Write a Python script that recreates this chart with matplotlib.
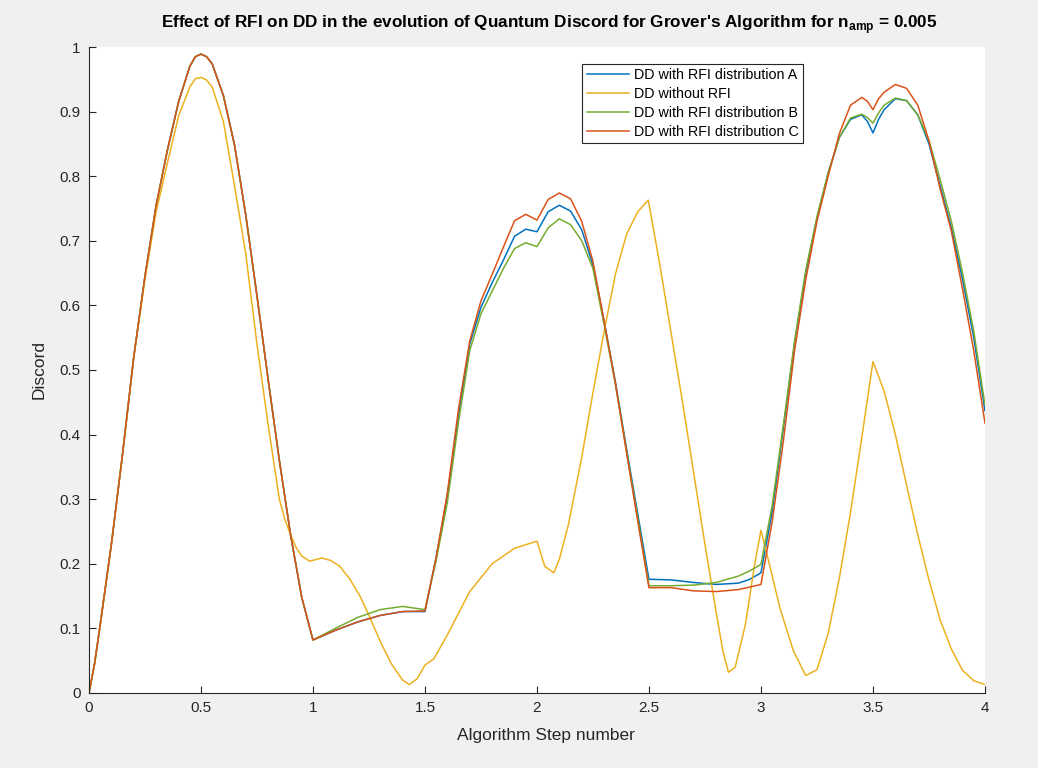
import numpy as np
import matplotlib.pyplot as plt
from matplotlib.ticker import FuncFormatter

plt.rcParams['font.family'] = ['Liberation Sans', 'DejaVu Sans']
plt.rcParams['mathtext.fontset'] = 'custom'
plt.rcParams['mathtext.rm'] = 'Liberation Sans'
plt.rcParams['mathtext.bf'] = 'Liberation Sans:bold'

# Malla comun para las curvas con RFI
pasos = [0, 0.025, 0.05, 0.1, 0.15, 0.2, 0.25, 0.3, 0.35, 0.4, 0.45, 0.475, 0.5,
         0.525, 0.55, 0.6, 0.65, 0.7, 0.75, 0.8, 0.85, 0.9, 0.95, 1.0,
         1.1, 1.2, 1.3, 1.4, 1.5, 1.55, 1.6, 1.65, 1.7, 1.75, 1.8, 1.85, 1.9, 1.95, 2.0,
         2.05, 2.1, 2.15, 2.2, 2.25, 2.3, 2.35, 2.4, 2.45, 2.5,
         2.6, 2.7, 2.8, 2.9, 2.95, 3.0,
         3.05, 3.1, 3.15, 3.2, 3.25, 3.3, 3.35, 3.4, 3.45, 3.475, 3.5,
         3.525, 3.55, 3.6, 3.65, 3.7, 3.75, 3.8, 3.85, 3.9, 3.95, 4.0]

primer_pico = [0, 0.045, 0.105, 0.23, 0.37, 0.52, 0.645, 0.755, 0.84, 0.915, 0.97, 0.985, 0.989,
               0.985, 0.974, 0.925, 0.848, 0.74, 0.615, 0.485, 0.36, 0.245, 0.148, 0.082]

dd_A = primer_pico + [
    0.097, 0.11, 0.12, 0.126, 0.126, 0.21, 0.305, 0.43, 0.54, 0.597, 0.635, 0.67, 0.707, 0.718, 0.714,
    0.745, 0.755, 0.746, 0.717, 0.662, 0.575, 0.482, 0.378, 0.277, 0.176,
    0.175, 0.171, 0.168, 0.17, 0.176, 0.186,
    0.28, 0.41, 0.54, 0.65, 0.735, 0.805, 0.86, 0.888, 0.895, 0.885, 0.867,
    0.888, 0.903, 0.92, 0.917, 0.895, 0.85, 0.785, 0.72, 0.64, 0.55, 0.437]

dd_B = primer_pico + [
    0.1, 0.117, 0.129, 0.134, 0.129, 0.205, 0.295, 0.42, 0.53, 0.587, 0.622, 0.657, 0.688, 0.697, 0.691,
    0.72, 0.734, 0.725, 0.7, 0.657, 0.57, 0.478, 0.374, 0.27, 0.166,
    0.166, 0.167, 0.171, 0.181, 0.189, 0.199,
    0.29, 0.415, 0.545, 0.655, 0.737, 0.805, 0.86, 0.89, 0.896, 0.891, 0.882,
    0.898, 0.91, 0.921, 0.917, 0.895, 0.855, 0.795, 0.73, 0.65, 0.56, 0.446]

dd_C = primer_pico + [
    0.097, 0.11, 0.12, 0.126, 0.127, 0.21, 0.31, 0.44, 0.545, 0.607, 0.648, 0.69, 0.731, 0.741, 0.732,
    0.764, 0.774, 0.765, 0.73, 0.668, 0.575, 0.48, 0.372, 0.266, 0.163,
    0.163, 0.158, 0.157, 0.16, 0.164, 0.168,
    0.265, 0.39, 0.53, 0.64, 0.73, 0.8, 0.866, 0.91, 0.922, 0.916, 0.903,
    0.92, 0.93, 0.942, 0.936, 0.91, 0.855, 0.78, 0.715, 0.625, 0.53, 0.418]

# Sin RFI
pasos_sin = [0, 0.025, 0.05, 0.1, 0.15, 0.2, 0.25, 0.3, 0.35, 0.4, 0.45, 0.475, 0.5,
             0.525, 0.55, 0.6, 0.65, 0.7, 0.75, 0.8, 0.85, 0.875, 0.9, 0.925, 0.95, 0.985,
             1.04, 1.08, 1.12, 1.165, 1.21, 1.25, 1.3, 1.35, 1.4, 1.43, 1.465, 1.5,
             1.54, 1.6, 1.7, 1.8, 1.9, 2.0,
             2.035, 2.075, 2.1, 2.14, 2.2, 2.25, 2.3, 2.35, 2.4, 2.45, 2.497,
             2.55, 2.6, 2.65, 2.7, 2.75, 2.8, 2.83, 2.855, 2.885, 2.93, 2.97, 3.0,
             3.04, 3.085, 3.145, 3.2, 3.25, 3.3, 3.35, 3.4, 3.45, 3.5,
             3.55, 3.6, 3.65, 3.7, 3.75, 3.8, 3.85, 3.9, 3.95, 4.0]
dd_sin = [0, 0.045, 0.105, 0.23, 0.37, 0.52, 0.64, 0.745, 0.82, 0.893, 0.938, 0.951, 0.953,
          0.949, 0.938, 0.885, 0.785, 0.68, 0.54, 0.415, 0.30, 0.268, 0.245, 0.225, 0.212, 0.204,
          0.209, 0.205, 0.196, 0.176, 0.15, 0.12, 0.08, 0.045, 0.02, 0.013, 0.022, 0.043,
          0.053, 0.09, 0.157, 0.2, 0.224, 0.235,
          0.196, 0.186, 0.207, 0.26, 0.365, 0.465, 0.56, 0.648, 0.71, 0.745, 0.763,
          0.66, 0.555, 0.45, 0.34, 0.23, 0.125, 0.065, 0.032, 0.04, 0.105, 0.195, 0.252,
          0.196, 0.131, 0.065, 0.027, 0.036, 0.092, 0.178, 0.28, 0.395, 0.513,
          0.467, 0.4, 0.322, 0.245, 0.175, 0.113, 0.068, 0.035, 0.019, 0.013]

fig = plt.figure(figsize=(10.38, 7.68), dpi=100, facecolor='#f0f0f0')
ax = fig.add_axes([0.0857, 0.0977, 0.8632, 0.8411])
grosor = 1.1
ax.plot(pasos, dd_A, color='#0072BD', lw=grosor, label='DD with RFI distribution A')
ax.plot(pasos_sin, dd_sin, color='#EDB120', lw=grosor, label='DD without RFI')
ax.plot(pasos, dd_B, color='#77AC30', lw=grosor, label='DD with RFI distribution B')
ax.plot(pasos, dd_C, color='#D95319', lw=grosor, label='DD with RFI distribution C')

ax.set_xlim(0, 4)
ax.set_ylim(0, 1)
ax.set_xticks(np.arange(0, 4.01, 0.5))
ax.set_yticks(np.arange(0, 1.01, 0.1))
fmt = FuncFormatter(lambda v, p: '%g' % round(v, 2))
ax.xaxis.set_major_formatter(fmt)
ax.yaxis.set_major_formatter(fmt)
gris = '#262626'
for lado in ['top', 'right']:
    ax.spines[lado].set_visible(False)
for lado in ['left', 'bottom']:
    ax.spines[lado].set_color(gris)
    ax.spines[lado].set_linewidth(0.8)
ax.tick_params(direction='in', length=5, width=0.8, colors=gris, labelsize=11, pad=6)

ax.set_title("Effect of RFI on DD in the evolution of Quantum Discord for Grover's Algorithm for n$_{\\mathbf{amp}}$ = 0.005",
             fontsize=12.3, fontweight='bold', pad=14, x=0.514)
ax.set_xlabel('Algorithm Step number', fontsize=12.5, color=gris, labelpad=9)
ax.xaxis.label.set_x(0.51)
ax.set_ylabel('Discord', fontsize=12.5, color=gris, labelpad=9)

leg = ax.legend(loc='upper right', bbox_to_anchor=(0.797, 0.974), fontsize=10.3,
                handlelength=3.0, handletextpad=0.3, labelspacing=0.33,
                borderpad=0.32, fancybox=False, framealpha=1, borderaxespad=0)
leg.get_frame().set_edgecolor(gris)
leg.get_frame().set_linewidth(0.8)

fig.savefig('out.png', dpi=100, facecolor=fig.get_facecolor())
